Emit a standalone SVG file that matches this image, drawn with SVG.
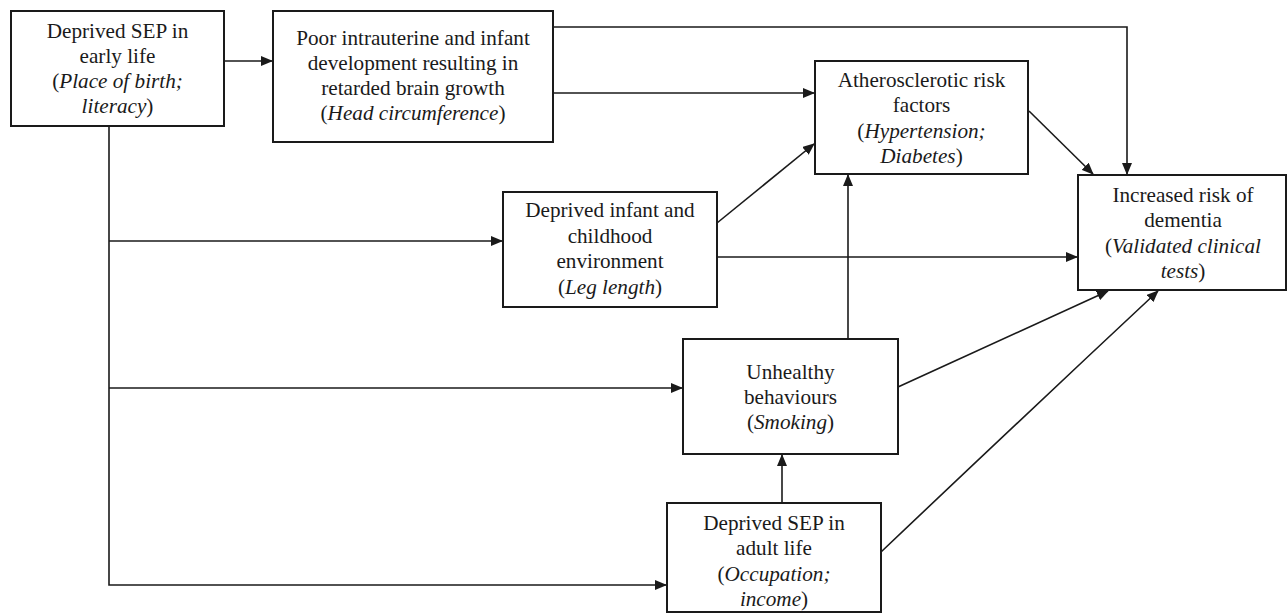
<svg xmlns="http://www.w3.org/2000/svg" width="1288" height="616" viewBox="0 0 1288 616">
<style>
.box{fill:#fff;stroke:#1a1a1a;stroke-width:2}
.t{font-family:"Liberation Serif","Times New Roman",serif;font-size:21.2px;fill:#1a1a1a;text-anchor:middle}
.i{font-style:italic}
.c{fill:none;stroke:#1a1a1a;stroke-width:1.6}
</style>
<defs>
<marker id="ah" markerWidth="12" markerHeight="10" refX="11" refY="5" orient="auto" markerUnits="userSpaceOnUse">
<path d="M0,0 L12,5 L0,10 z" fill="#1a1a1a"/>
</marker>
</defs>
<rect width="1288" height="616" fill="#fff"/>
<g id="connectors">
<line class="c" x1="224" y1="61" x2="272" y2="61" marker-end="url(#ah)"/>
<polyline class="c" points="553,27 1127,27 1127,174" marker-end="url(#ah)"/>
<line class="c" x1="553" y1="93" x2="814" y2="93" marker-end="url(#ah)"/>
<line class="c" x1="1029" y1="111" x2="1093" y2="174" marker-end="url(#ah)"/>
<polyline class="c" points="109,126 109,585 666,585" marker-end="url(#ah)"/>
<line class="c" x1="109" y1="241" x2="502" y2="241" marker-end="url(#ah)"/>
<line class="c" x1="109" y1="388" x2="682" y2="388" marker-end="url(#ah)"/>
<line class="c" x1="717" y1="223" x2="814" y2="144" marker-end="url(#ah)"/>
<line class="c" x1="717" y1="257" x2="1077" y2="257" marker-end="url(#ah)"/>
<line class="c" x1="848" y1="339" x2="848" y2="175" marker-end="url(#ah)"/>
<line class="c" x1="898" y1="387" x2="1108" y2="291" marker-end="url(#ah)"/>
<line class="c" x1="782" y1="503" x2="782" y2="455" marker-end="url(#ah)"/>
<path class="c" d="M881,552 Q1020,420 1158,291" marker-end="url(#ah)"/>
</g>
<g id="node-sep-early">
<rect class="box" x="11" y="11" width="213" height="115"/>
<text class="t" x="117.5" y="38">Deprived SEP in</text>
<text class="t" x="117.5" y="63">early life</text>
<text class="t" x="117.5" y="88">(<tspan class="i">Place of birth;</tspan></text>
<text class="t" x="117.5" y="113"><tspan class="i">literacy</tspan>)</text>
</g>
<g id="node-intrauterine">
<rect class="box" x="273" y="11" width="280" height="131"/>
<text class="t" x="413" y="45">Poor intrauterine and infant</text>
<text class="t" x="413" y="70">development resulting in</text>
<text class="t" x="413" y="95">retarded brain growth</text>
<text class="t" x="413" y="120">(<tspan class="i">Head circumference</tspan>)</text>
</g>
<g id="node-atherosclerotic">
<rect class="box" x="815" y="61" width="213" height="113"/>
<text class="t" x="921.5" y="87">Atherosclerotic risk</text>
<text class="t" x="921.5" y="112">factors</text>
<text class="t" x="921.5" y="138">(<tspan class="i">Hypertension;</tspan></text>
<text class="t" x="921.5" y="163"><tspan class="i">Diabetes</tspan>)</text>
</g>
<g id="node-dementia">
<rect class="box" x="1078" y="175" width="208" height="115"/>
<text class="t" x="1183" y="202">Increased risk of</text>
<text class="t" x="1183" y="227">dementia</text>
<text class="t" x="1183" y="253">(<tspan class="i">Validated clinical</tspan></text>
<text class="t" x="1183" y="278"><tspan class="i">tests</tspan>)</text>
</g>
<g id="node-childhood">
<rect class="box" x="503" y="192" width="214" height="115"/>
<text class="t" x="610" y="217">Deprived infant and</text>
<text class="t" x="610" y="243">childhood</text>
<text class="t" x="610" y="268">environment</text>
<text class="t" x="610" y="294">(<tspan class="i">Leg length</tspan>)</text>
</g>
<g id="node-behaviours">
<rect class="box" x="683" y="339" width="215" height="115"/>
<text class="t" x="790.5" y="379">Unhealthy</text>
<text class="t" x="790.5" y="404">behaviours</text>
<text class="t" x="790.5" y="429">(<tspan class="i">Smoking</tspan>)</text>
</g>
<g id="node-sep-adult">
<rect class="box" x="667" y="503" width="214" height="109"/>
<text class="t" x="774" y="530">Deprived SEP in</text>
<text class="t" x="774" y="555">adult life</text>
<text class="t" x="774" y="581">(<tspan class="i">Occupation;</tspan></text>
<text class="t" x="774" y="606"><tspan class="i">income</tspan>)</text>
</g>
</svg>
